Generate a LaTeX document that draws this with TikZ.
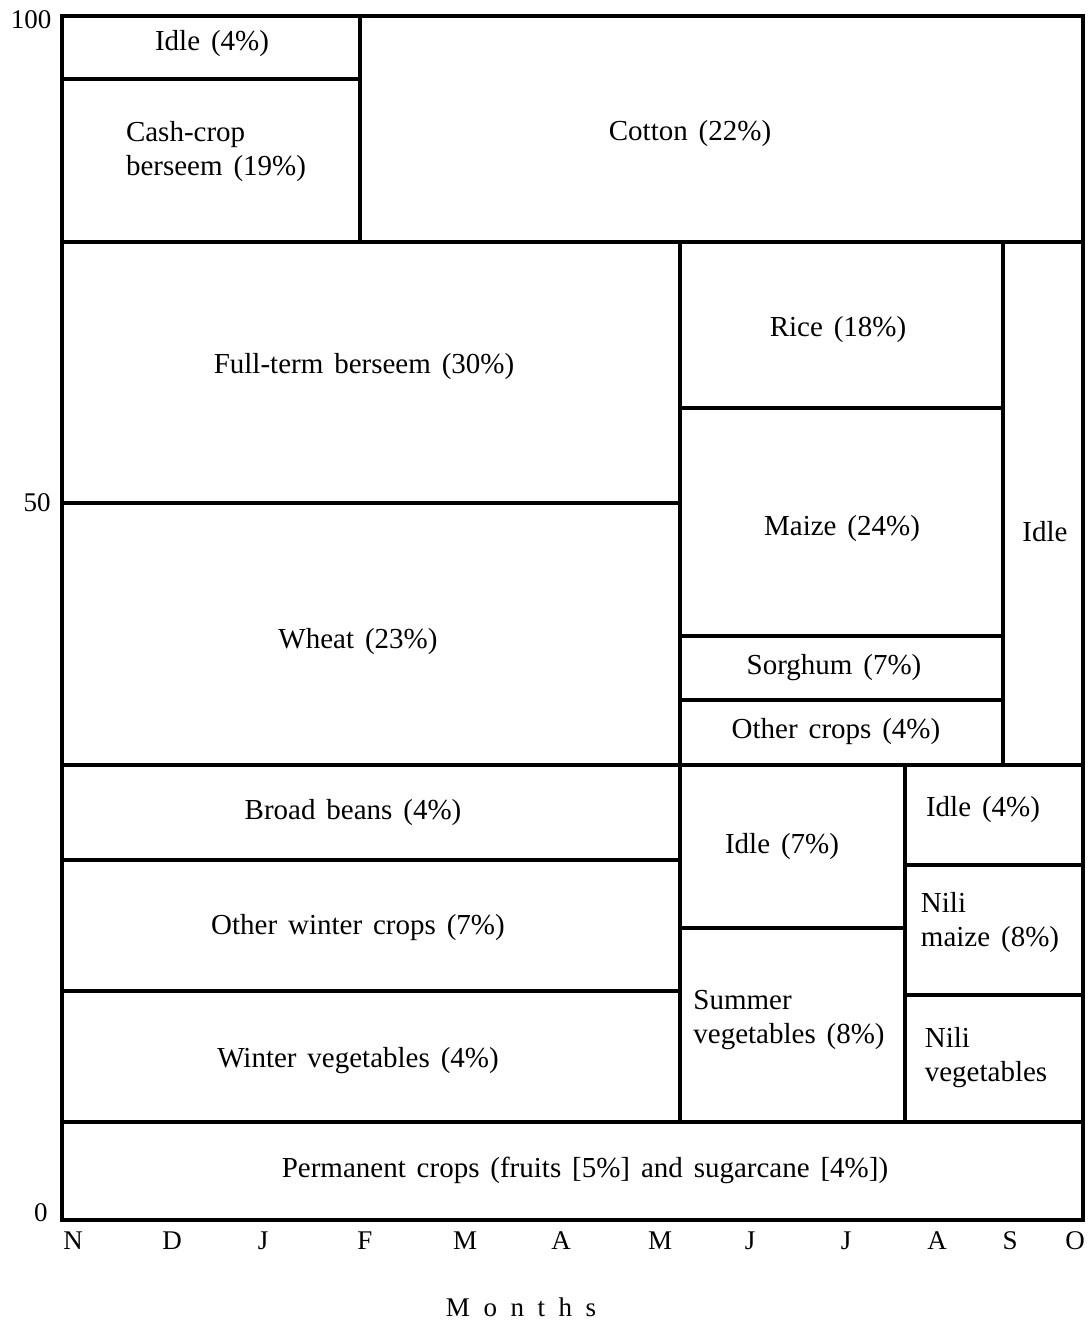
\documentclass[tikz,border=0pt]{standalone}
\usepackage{fontspec}
\setmainfont[WordSpace=1.5]{Liberation Serif}
\usetikzlibrary{positioning}

\begin{document}
\begin{tikzpicture}[
  x=1pt, y=-1pt,
  box/.style={draw, line width=3.4pt, line cap=rect},
  lbl/.style={inner sep=0pt, align=center},
  lbll/.style={inner sep=0pt, align=left},
  tick/.style={inner sep=0pt, font=\fontsize{27}{30}\selectfont},
  font=\fontsize{29}{34}\selectfont
]
\useasboundingbox (0,0) rectangle (1091,1322);

% Frame
\draw[box] (62,16) rectangle (1083,1220);

% Cells
\draw[box] (62,79) -- (360,79);
\draw[box] (360,16) -- (360,242);
\draw[box] (62,242) -- (1083,242);
\draw[box] (62,503) -- (680,503);
\draw[box] (680,242) -- (680,1122);
\draw[box] (1003,242) -- (1003,765);
\draw[box] (680,408) -- (1003,408);
\draw[box] (680,636) -- (1003,636);
\draw[box] (680,700) -- (1003,700);
\draw[box] (62,765) -- (1083,765);
\draw[box] (905,765) -- (905,1122);
\draw[box] (62,860) -- (680,860);
\draw[box] (62,991) -- (680,991);
\draw[box] (680,928) -- (905,928);
\draw[box] (905,865) -- (1083,865);
\draw[box] (905,995) -- (1083,995);
\draw[box] (62,1122) -- (1083,1122);

% Labels
\node[lbl] (idleA) at (212,44) {Idle (4\%)};
\node[lbll] (cashcrop) at (216,152) {Cash-crop\\berseem (19\%)};
\node[lbl] (cotton) at (690,134) {Cotton (22\%)};
\node[lbl] (fullterm) at (364,367) {Full-term berseem (30\%)};
\node[lbl] (wheat) at (358,642) {Wheat (23\%)};
\node[lbl] (rice) at (838,330) {Rice (18\%)};
\node[lbl] (maize) at (842,529) {Maize (24\%)};
\node[lbl] (sorghum) at (834,668) {Sorghum (7\%)};
\node[lbl] (othercrops) at (836,732) {Other crops (4\%)};
\node[lbl] (idleB) at (1045,532) {Idle};
\node[lbl] (broadbeans) at (353,813) {Broad beans (4\%)};
\node[lbl] (otherwinter) at (358,928) {Other winter crops (7\%)};
\node[lbl] (wintervegs) at (358,1061) {Winter vegetables (4\%)};
\node[lbl] (idleC) at (782,847) {Idle (7\%)};
\node[lbll] (summervegs) at (789,1020) {Summer\\vegetables (8\%)};
\node[lbl] (idleD) at (983,810) {Idle (4\%)};
\node[lbll] (nilimaize) at (990,923) {Nili\\maize (8\%)};
\node[lbll] (nilivegs) at (986,1058) {Nili\\vegetables};
\node[lbl] (permanent) at (585,1170) {Permanent crops (fruits [5\%] and sugarcane [4\%])};

% Axis
\node[tick] (yA) at (31,20) {100};
\node[tick] (yB) at (37,503) {50};
\node[tick] (yC) at (41,1213) {0};

\foreach \m/\x [count=\i] in {N/73, D/172, J/263, F/365, M/465, A/561, M/660, J/750, J/846, A/937, S/1010, O/1075}
  \node[tick] (month\i) at (\x,1241) {\m};

\node[tick, font=\fontsize{27}{30}\selectfont\addfontfeature{LetterSpace=50}] (months) at (521,1307) {Months};

\end{tikzpicture}
\end{document}
